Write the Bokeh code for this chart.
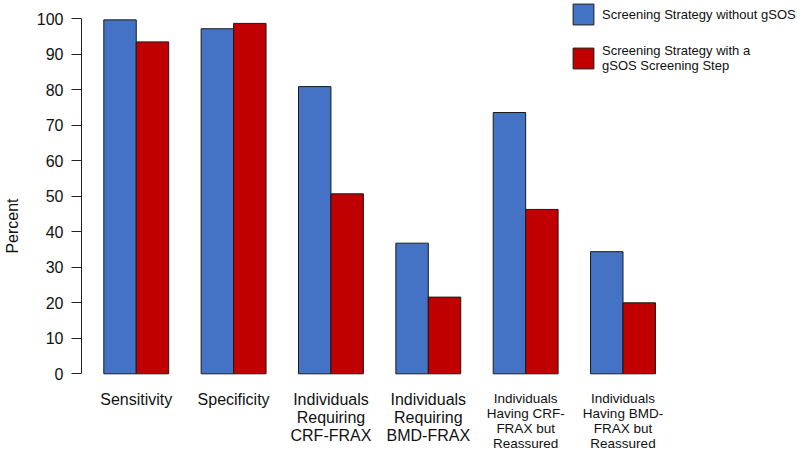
from bokeh.plotting import figure
from bokeh.models import Range1d, FixedTicker, Legend, LegendItem, Label
from bokeh.embed import file_html
from bokeh.resources import INLINE

categories = [
    "Sensitivity",
    "Specificity",
    "Individuals\nRequiring\nCRF-FRAX",
    "Individuals\nRequiring\nBMD-FRAX",
    "Individuals\nHaving CRF-\nFRAX but\nReassured",
    "Individuals\nHaving BMD-\nFRAX but\nReassured",
]
without_gsos = [99.7, 97.2, 80.9, 36.8, 73.6, 34.4]
with_gsos = [93.5, 98.7, 50.7, 21.6, 46.3, 20.0]
series_names = ["Screening Strategy without gSOS",
                "Screening Strategy with a\ngSOS Screening Step"]
y_ticks = [0, 10, 20, 30, 40, 50, 60, 70, 80, 90, 100]

BLUE = "#4472C4"
RED = "#C00000"
FONT = "Liberation Sans"

n = len(categories)
blue_x = [1.5 + 3 * i for i in range(n)]
red_x = [2.5 + 3 * i for i in range(n)]
centers = [2.0 + 3 * i for i in range(n)]

W, H = 800, 451
left = 81
frame_w = W - left
px_x = 32.45          # px per bar unit
x0 = 0.3128
y_top_px, y_zero_px = 18.3, 373.3
px_y = (y_zero_px - y_top_px) / 100.0

p = figure(
    width=W, height=H,
    min_border_left=left, min_border_right=0, min_border_top=0, min_border_bottom=0,
    x_range=Range1d(x0, x0 + frame_w / px_x),
    y_range=Range1d(-(H - y_zero_px) / px_y, 100 + y_top_px / px_y),
    output_backend="svg", toolbar_location=None,
    x_axis_location=None,
)
p.grid.visible = False
p.outline_line_color = None
p.background_fill_color = "white"
p.border_fill_color = "white"

rb = p.vbar(x=blue_x, top=without_gsos, width=1, bottom=0,
            fill_color=BLUE, line_color="#1a1a1a", line_width=1)
rr = p.vbar(x=red_x, top=with_gsos, width=1, bottom=0,
            fill_color=RED, line_color="#1a1a1a", line_width=1)

ax = p.yaxis[0]
ax.ticker = FixedTicker(ticks=y_ticks)
ax.bounds = (0, 100)
ax.minor_tick_line_color = None
ax.major_tick_out = 10
ax.major_tick_in = 0
ax.major_tick_line_color = "#222222"
ax.axis_line_color = "#222222"
ax.major_label_text_font = FONT
ax.major_label_text_font_size = "16px"
ax.major_label_text_color = "#111111"
ax.major_label_standoff = 8
ax.axis_label = "Percent"
ax.axis_label_text_font = FONT
ax.axis_label_text_font_size = "16px"
ax.axis_label_text_font_style = "normal"
ax.axis_label_text_color = "#111111"
ax.axis_label_standoff = 13

for i, (cx, lab) in enumerate(zip(centers, categories)):
    small = i >= 4
    p.add_layout(Label(
        x=cx, y=-4.93, x_units="data", y_units="data", text=lab,
        text_align="center", text_baseline="top",
        text_font=FONT,
        text_font_size="13.5px" if small else "16px",
        text_line_height=1.0 if small else 1.06,
        text_color="#111111",
    ))

legend = Legend(
    items=[LegendItem(label=series_names[0], renderers=[rb]),
           LegendItem(label=series_names[1], renderers=[rr])],
    location=(489, 378),
    glyph_width=26, glyph_height=26,
    label_text_font=FONT, label_text_font_size="13px",
    label_text_line_height=1.07,
    label_standoff=6, spacing=16, padding=0, margin=0,
    background_fill_alpha=0, border_line_color=None,
    label_text_color="#111111",
)
p.add_layout(legend)

open("out.html", "w").write(file_html(p, INLINE))
